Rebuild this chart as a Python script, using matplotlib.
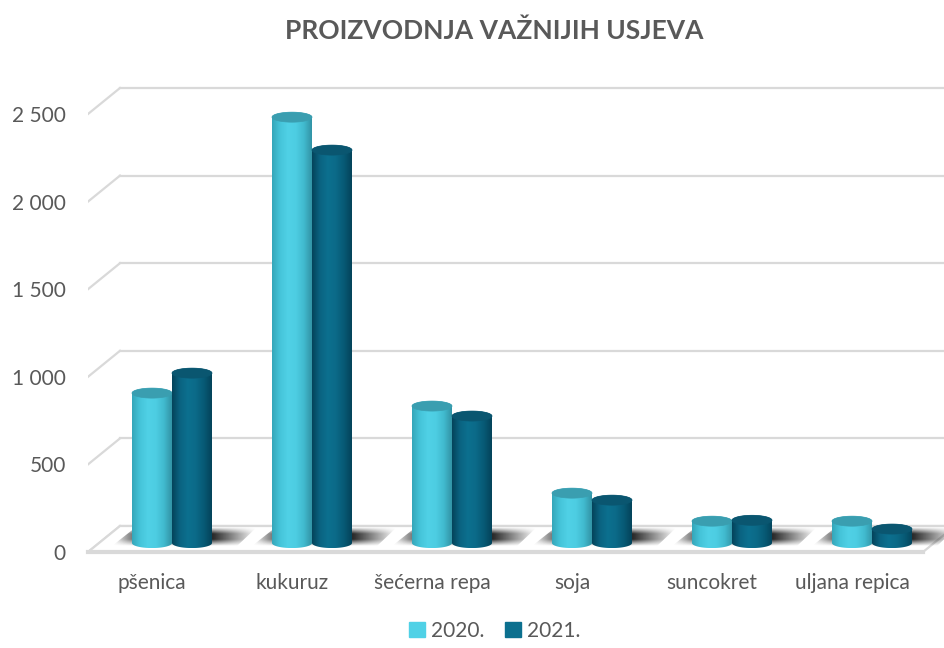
import numpy as np
import matplotlib
matplotlib.use("Agg")
import matplotlib.pyplot as plt
from matplotlib.patches import Polygon, Patch
from matplotlib.colors import LinearSegmentedColormap

plt.rcParams['font.family'] = ['Lato', 'DejaVu Sans']

# data (tisuće tona)
crops = ['pšenica', 'kukuruz', 'šećerna repa', 'soja', 'suncokret', 'uljana repica']
y2020 = [856, 2431, 782, 285, 125, 125]
y2021 = [970, 2243, 725, 245, 130, 80]
years = ['2020.', '2021.']
yticks = [0, 500, 1000, 1500, 2000, 2500]
ytick_labels = ['0', '500', '1 000', '1 500', '2 000', '2 500']

TXT = '#595959'
GRID = '#D9D9D9'
light_cols = ['#35A6B9', '#45C4D9', '#50D1E6', '#4DCDE2', '#41BACE', '#3293A5']
dark_cols = ['#04435A', '#0A6381', '#0C708F', '#0B6A88', '#075A75', '#04435A']
light_top = '#3A9EB0'
dark_top = '#0A5670'

# pixel -> data unit conversion for the fake 3d layout
PXX = 1 / 140.0
PXY = 1 / 0.1752
depth_x, depth_y = 32 * PXX, 26 * PXY

fig = plt.figure(figsize=(9.44, 6.48), dpi=100)
ax = fig.add_axes([88 / 944, 96 / 648, 856 / 944, 492 / 648])
x_left = -64 * PXX
x_right = 792 * PXX
ax.set_xlim(x_left, x_right)
ax.set_ylim(0, 492 * PXY)
for s in ax.spines.values():
    s.set_visible(False)

# back wall gridlines + left diagonals
for v in yticks:
    ax.plot([x_left + depth_x, x_right], [v + depth_y, v + depth_y], color=GRID, lw=1.6, zorder=1)
    ax.plot([x_left, x_left + depth_x], [v, v + depth_y], color=GRID, lw=1.6, zorder=1)

# floor
front_r = x_left + 835 * PXX
floor = Polygon([[x_left, 0], [front_r, 0], [front_r + depth_x, depth_y],
                 [x_left + depth_x, depth_y]], closed=True, facecolor='white',
                edgecolor=GRID, lw=1.6, zorder=2, clip_on=False)
ax.add_patch(floor)
ax.plot([x_left, front_r], [0, 0], color=GRID, lw=3, zorder=2.1, clip_on=False)

cat = np.arange(len(crops))
pair_c = cat + 20 * PXX
bw = 40 * PXX
base = 51.0
eh = 10 * PXY

# shadows on the floor
sh = np.zeros((40, 200, 4))
xs = np.linspace(0, 1, 200)
ys = np.linspace(0, 1, 40)
ax_prof = np.clip(np.minimum(xs / 0.22, (1 - xs) / 0.3), 0, 1)
ay_prof = np.clip(np.minimum(ys / 0.35, (1 - ys) / 0.35), 0, 1)
sh[..., 3] = 0.95 * np.outer(ay_prof, ax_prof)
sh[..., :3] = 0.12
for c in pair_c:
    l, r = c - bw - 20 * PXX, c + bw + 35 * PXX
    y0, y1 = 6 * PXY, 25 * PXY
    poly = Polygon([[l, y0], [l + 24 * PXX, y1], [r + 10 * PXX, y1], [r - 10 * PXX, y0]],
                   closed=True, facecolor='none', edgecolor='none', zorder=3)
    ax.add_patch(poly)
    im = ax.imshow(sh, extent=[l, r + 10 * PXX, y0, y1], origin='lower',
                   aspect='auto', interpolation='bilinear', zorder=3)
    im.set_clip_path(poly)

light_cmap = LinearSegmentedColormap.from_list('l', light_cols)
dark_cmap = LinearSegmentedColormap.from_list('d', dark_cols)
grad = np.linspace(0, 1, 256).reshape(1, -1)
t_lo = np.linspace(np.pi, 2 * np.pi, 40)
t_hi = np.linspace(0, np.pi, 40)


def cylinder(xc, val, cmap, top_col, z):
    a, b = bw / 2, eh / 2
    top = base + val
    pts = [[xc + a * np.cos(t), base + b * np.sin(t)] for t in t_lo]
    pts += [[xc + a * np.cos(t), top + b * np.sin(t)] for t in t_hi]
    body = Polygon(pts, closed=True, facecolor='none', edgecolor='none', zorder=z)
    ax.add_patch(body)
    im = ax.imshow(grad, cmap=cmap, extent=[xc - a, xc + a, base - b, top + b],
                   aspect='auto', interpolation='bilinear', zorder=z)
    im.set_clip_path(body)
    tt = np.linspace(0, 2 * np.pi, 80)
    cap = Polygon(np.column_stack([xc + a * np.cos(tt), top + b * np.sin(tt)]),
                  closed=True, facecolor=top_col, edgecolor=top_col, lw=0.5, zorder=z + 0.1)
    ax.add_patch(cap)


for i, c in enumerate(pair_c):
    cylinder(c - bw / 2, y2020[i], light_cmap, light_top, 4)
    cylinder(c + bw / 2, y2021[i], dark_cmap, dark_top, 5)

ax.set_xlim(x_left, x_right)
ax.set_ylim(0, 492 * PXY)

ax.set_yticks(yticks)
ax.set_yticklabels(ytick_labels)
ax.set_xticks(cat)
ax.set_xticklabels(crops)
ax.tick_params(axis='y', length=0, pad=16, labelsize=15, labelcolor=TXT)
ax.tick_params(axis='x', length=0, pad=15, labelsize=15, labelcolor=TXT)

fig.text(0.524, 1 - 31 / 648, 'PROIZVODNJA VAŽNIJIH USJEVA', ha='center', va='center',
         fontsize=19, fontweight='bold', color=TXT)

handles = [Patch(color=light_cols[2]), Patch(color=dark_cols[2])]
fig.legend(handles, years, loc='lower center', bbox_to_anchor=(0.524, -0.018), ncol=2,
           frameon=False, fontsize=15, labelcolor=TXT, handlelength=0.75, handleheight=0.75,
           handletextpad=0.3, columnspacing=1.0)

fig.savefig('out.png', dpi=100)
